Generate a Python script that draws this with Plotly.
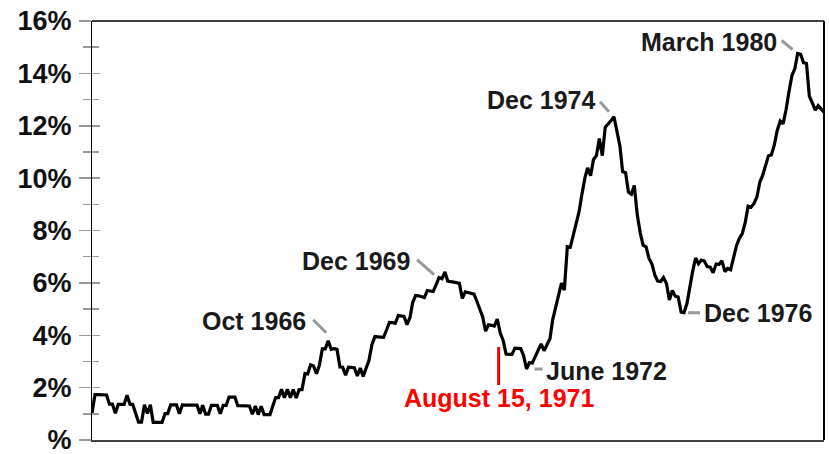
import pandas as pd
import plotly.graph_objects as go

# Monthly CPI year-over-year inflation (%), Jan 1960 - Dec 1980
cpi_1960 = [1.03, 1.73, 1.73, 1.72, 1.72, 1.72, 1.37, 1.37, 1.02, 1.36, 1.36, 1.36]
cpi_1961 = [1.71, 1.36, 1.36, 1.02, 0.68, 0.68, 1.35, 1.01, 1.35, 0.67, 0.67, 0.67]
cpi_1962 = [0.67, 1.01, 1.01, 1.34, 1.34, 1.34, 1.00, 1.34, 1.33, 1.33, 1.33, 1.33]
cpi_1963 = [1.33, 1.00, 1.33, 0.99, 0.99, 1.32, 1.32, 1.32, 1.00, 1.32, 1.32, 1.64]
cpi_1964 = [1.64, 1.64, 1.31, 1.31, 1.31, 1.31, 1.30, 0.98, 1.30, 0.97, 1.29, 0.97]
cpi_1965 = [0.97, 0.97, 1.29, 1.62, 1.62, 1.94, 1.61, 1.94, 1.61, 1.93, 1.60, 1.92]
cpi_1966 = [1.92, 2.54, 2.52, 2.87, 2.83, 2.53, 2.85, 3.48, 3.48, 3.79, 3.46, 3.49]
cpi_1967 = [3.46, 2.79, 2.78, 2.47, 2.78, 2.77, 2.76, 2.45, 2.75, 2.43, 2.74, 3.04]
cpi_1968 = [3.65, 3.95, 3.94, 3.93, 3.92, 4.20, 4.49, 4.48, 4.46, 4.75, 4.73, 4.72]
cpi_1969 = [4.40, 4.68, 5.25, 5.52, 5.51, 5.48, 5.44, 5.71, 5.70, 5.67, 5.93, 6.20]
cpi_1970 = [6.16, 6.42, 6.07, 6.06, 6.04, 6.01, 5.98, 5.41, 5.66, 5.63, 5.60, 5.57]
cpi_1971 = [5.29, 5.00, 4.71, 4.16, 4.40, 4.38, 4.35, 4.62, 4.08, 3.80, 3.28, 3.27]
cpi_1972 = [3.27, 3.51, 3.50, 3.49, 3.23, 2.71, 2.95, 2.94, 3.19, 3.42, 3.67, 3.41]
cpi_1973 = [3.65, 3.87, 4.59, 5.06, 5.53, 5.99, 5.72, 7.38, 7.36, 7.80, 8.25, 8.71]
cpi_1974 = [9.39, 10.02, 10.39, 10.09, 10.71, 10.86, 11.51, 10.86, 11.95, 12.06, 12.20, 12.34]
cpi_1975 = [11.80, 11.23, 10.25, 10.21, 9.47, 9.39, 9.72, 8.60, 7.91, 7.44, 7.38, 6.94]
cpi_1976 = [6.72, 6.29, 6.07, 6.05, 6.20, 5.97, 5.35, 5.71, 5.49, 5.46, 4.88, 4.86]
cpi_1977 = [5.22, 5.91, 6.44, 6.95, 6.73, 6.87, 6.83, 6.62, 6.60, 6.39, 6.72, 6.70]
cpi_1978 = [6.84, 6.43, 6.55, 6.50, 6.97, 7.41, 7.70, 7.88, 8.31, 8.93, 8.89, 9.03]
cpi_1979 = [9.28, 9.86, 10.09, 10.49, 10.85, 10.89, 11.26, 11.82, 12.18, 12.07, 12.61, 13.29]
cpi_1980 = [13.91, 14.18, 14.76, 14.73, 14.41, 14.38, 13.13, 12.87, 12.60, 12.77, 12.65, 12.52]

inflation = (cpi_1960 + cpi_1961 + cpi_1962 + cpi_1963 + cpi_1964 + cpi_1965 + cpi_1966
             + cpi_1967 + cpi_1968 + cpi_1969 + cpi_1970 + cpi_1971 + cpi_1972 + cpi_1973
             + cpi_1974 + cpi_1975 + cpi_1976 + cpi_1977 + cpi_1978 + cpi_1979 + cpi_1980)
months = pd.date_range("1960-01-01", periods=len(inflation), freq="MS")

y_tick_values = [0, 2, 4, 6, 8, 10, 12, 14, 16]
y_tick_labels = ["%", "2%", "4%", "6%", "8%", "10%", "12%", "14%", "16%"]

# Labelled turning points
event_labels = ["Oct 1966", "Dec 1969", "June 1972", "Dec 1974", "Dec 1976", "March 1980"]
event_dates = ["1966-10-01", "1969-12-01", "1972-06-01", "1974-12-01", "1976-12-01", "1980-03-01"]

policy_label = "August 15, 1971"
policy_date = "1971-08-15"

series = pd.Series(inflation, index=months)

# label placement (pixel offsets relative to the point): text anchor, text shift, connector
label_style = {
    "Oct 1966":   dict(xanchor="right", dx=-20, dy=20, c=(-15, 21, -2, 8)),
    "Dec 1969":   dict(xanchor="right", dx=-27, dy=17, c=(-22, 18, -5, 3)),
    "June 1972":  dict(xanchor="left",  dx=17,  dy=-2, c=(8, 0, 16, 0)),
    "Dec 1974":   dict(xanchor="right", dx=-16, dy=17, c=(-14, 15, -5, 5)),
    "Dec 1976":   dict(xanchor="left",  dx=18,  dy=0,  c=(4, 0, 16, 0)),
    "March 1980": dict(xanchor="right", dx=-19, dy=11, c=(-16, 13, -5, 4)),
}

FONT = "Arial, 'Liberation Sans', sans-serif"

fig = go.Figure()
fig.add_trace(go.Scatter(
    x=months, y=inflation, mode="lines",
    line=dict(color="black", width=3.2),
    hoverinfo="skip", showlegend=False,
))

annotations = []
shapes = []
for lab, d in zip(event_labels, event_dates):
    st = label_style[lab]
    yv = float(series[pd.Timestamp(d)])
    annotations.append(dict(
        x=d, y=yv, xref="x", yref="y", text=lab, showarrow=False,
        xanchor=st["xanchor"], yanchor="middle", xshift=st["dx"], yshift=st["dy"],
        font=dict(family=FONT, size=25, color="#1a1a1a", weight="bold"),
    ))
    c = st["c"]
    shapes.append(dict(
        type="line", xref="x", yref="y", xsizemode="pixel", ysizemode="pixel",
        xanchor=d, yanchor=yv, x0=c[0], y0=c[1], x1=c[2], y1=c[3],
        line=dict(color="#999999", width=3),
    ))

# policy marker (Nixon shock)
shapes.append(dict(
    type="line", xref="x", yref="y", xsizemode="pixel", ysizemode="pixel",
    xanchor=policy_date, yanchor=0, x0=0, x1=0, y0=55, y1=93,
    line=dict(color="#ff0000", width=3),
))
annotations.append(dict(
    x=policy_date, y=0, xref="x", yref="y", text=policy_label, showarrow=False,
    xanchor="center", yanchor="middle", yshift=42,
    font=dict(family=FONT, size=25, color="#ff0000", weight="bold"),
))

# frame: top and right borders
shapes.append(dict(type="line", xref="paper", yref="paper", x0=0, x1=1, y0=1, y1=1,
                   line=dict(color="black", width=1.5)))
shapes.append(dict(type="line", xref="paper", yref="paper", x0=1, x1=1, y0=0, y1=1,
                   line=dict(color="black", width=2)))

fig.update_layout(
    width=829, height=454,
    margin=dict(l=92, r=5, t=21, b=14),
    paper_bgcolor="white", plot_bgcolor="white",
    showlegend=False,
    annotations=annotations,
    shapes=shapes,
    xaxis=dict(
        range=[months[0], months[-1]], showline=True, linecolor="#444444", linewidth=2,
        ticks="", showticklabels=False, showgrid=False, zeroline=False, automargin=False,
    ),
    yaxis=dict(
        range=[0, 16], tickmode="array", tickvals=y_tick_values, ticktext=y_tick_labels,
        ticks="outside", ticklen=12, tickcolor="#999999", tickwidth=1.5,
        minor=dict(ticks="outside", ticklen=8, tickcolor="#999999", tickwidth=1.5,
                   dtick=1, tick0=0, showgrid=False),
        showline=True, linecolor="black", linewidth=1,
        showgrid=False, zeroline=False,
        tickfont=dict(family=FONT, size=27, color="#111111", weight="bold"),
        ticklabelstandoff=2, ticklabeloverflow="allow", automargin=False,
    ),
    yaxis2=dict(
        range=[0, 16], overlaying="y", anchor="x", side="left",
        tickmode="array", tickvals=y_tick_values,
        ticks="inside", ticklen=8, tickcolor="#999999", tickwidth=1.5,
        minor=dict(ticks="inside", ticklen=7, tickcolor="#999999", tickwidth=1.5,
                   dtick=1, tick0=0, showgrid=False),
        showticklabels=False, showline=False, showgrid=False, zeroline=False,
        automargin=False,
    ),
)
# dummy invisible trace to activate yaxis2
fig.add_trace(go.Scatter(x=[months[0]], y=[0], yaxis="y2", mode="markers",
                         marker=dict(opacity=0), hoverinfo="skip", showlegend=False))

fig.write_html("out.html", config=dict(displayModeBar=False, staticPlot=True),
               post_script="document.body.style.margin='0';")
